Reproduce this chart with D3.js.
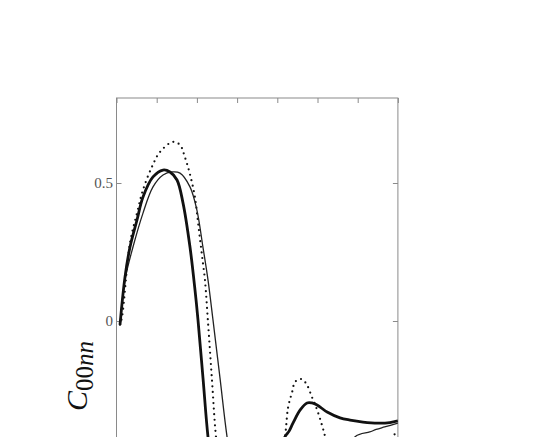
<!DOCTYPE html>
<html>
<head>
<meta charset="utf-8">
<script src="https://cdn.jsdelivr.net/npm/d3@7"></script>
<style>
  html, body { margin: 0; padding: 0; background: #fff; }
  svg { display: block; }
</style>
</head>
<body>
<svg id="chart" width="539" height="437"></svg>
<script>
// ---- data ----
const xTicks = [0, 1, 2, 3, 4, 5, 6, 7];
const yTicks = [0, 0.5];
const yTickLabels = ["0", "0.5"];

// thick solid curve
const thickX = [0.087, 0.211, 0.336, 0.51, 0.659, 0.908, 1.157, 1.331, 1.505, 1.654, 1.828, 1.953, 2.027, 2.152, 2.276, 2.45, 3.0, 3.6, 4.0, 4.19, 4.29, 4.39, 4.57, 4.74, 4.86, 4.99, 5.24, 5.56, 5.81, 6.13, 6.5, 6.8, 7.0];
const thickY = [-0.014, 0.159, 0.268, 0.366, 0.449, 0.522, 0.547, 0.54, 0.511, 0.428, 0.268, 0.112, 0.004, -0.207, -0.42, -0.62, -0.85, -0.78, -0.55, -0.42, -0.4, -0.37, -0.322, -0.297, -0.297, -0.304, -0.33, -0.351, -0.359, -0.366, -0.37, -0.368, -0.362];

// thin solid curve
const thinX = [0.087, 0.211, 0.41, 0.659, 0.908, 1.157, 1.381, 1.58, 1.828, 2.0, 2.15, 2.276, 2.4, 2.575, 2.75, 3.0, 3.8, 4.6, 5.4, 5.93, 6.3, 6.46, 6.67, 7.0];
const thinY = [-0.014, 0.149, 0.268, 0.391, 0.486, 0.529, 0.54, 0.536, 0.486, 0.402, 0.268, 0.149, 0.004, -0.207, -0.42, -0.65, -0.85, -0.8, -0.6, -0.42, -0.402, -0.393, -0.384, -0.37];

// dotted curve
const dotX = [0.087, 0.137, 0.336, 0.51, 0.659, 0.88, 1.08, 1.4, 1.58, 1.7, 1.82, 1.95, 2.05, 2.15, 2.2, 2.276, 2.375, 2.475, 2.7, 3.3, 3.9, 4.19, 4.27, 4.37, 4.44, 4.57, 4.64, 4.74, 4.86, 4.99, 5.11, 5.19, 5.4, 6.0, 6.6, 6.88, 7.0];
const dotY = [-0.014, 0.014, 0.283, 0.391, 0.475, 0.558, 0.612, 0.649, 0.638, 0.594, 0.536, 0.449, 0.33, 0.21, 0.149, -0.004, -0.214, -0.42, -0.7, -0.9, -0.65, -0.42, -0.312, -0.257, -0.221, -0.21, -0.214, -0.232, -0.275, -0.322, -0.377, -0.42, -0.6, -0.78, -0.55, -0.42, -0.395];

// ---- layout ----
const svg = d3.select("#chart");
const pL = 116.5, pR = 397.9, pT = 98, pB = 597;
const x = d3.scaleLinear().domain([0, 7]).range([pL, pR]);
const y = d3.scaleLinear().domain([-1, 0.808]).range([pB, pT]);

const axisColor = "#8a8a8a";

svg.append("defs").append("clipPath").attr("id", "plotclip")
  .append("rect").attr("x", pL).attr("y", pT)
  .attr("width", pR - pL).attr("height", pB - pT);

// box
svg.append("rect")
  .attr("x", pL).attr("y", pT)
  .attr("width", pR - pL).attr("height", pB - pT)
  .attr("fill", "none").attr("stroke", axisColor).attr("stroke-width", 1);

// top ticks (inward)
const gTop = svg.append("g").attr("transform", `translate(0,${pT})`)
  .call(d3.axisTop(x).tickValues(xTicks).tickSize(-5).tickFormat(""));
// left ticks with labels
const gLeft = svg.append("g").attr("transform", `translate(${pL},0)`)
  .call(d3.axisLeft(y).tickValues(yTicks).tickSize(-5).tickPadding(3.5)
    .tickFormat((d, i) => yTickLabels[i]));
// right ticks
const gRight = svg.append("g").attr("transform", `translate(${pR},0)`)
  .call(d3.axisRight(y).tickValues(yTicks).tickSize(-5).tickFormat(""));

[gTop, gLeft, gRight].forEach(g => {
  g.select(".domain").remove();
  g.selectAll(".tick line").attr("stroke", axisColor).attr("stroke-width", 1);
});
gLeft.attr("font-family", "'Liberation Serif', 'DejaVu Serif', serif").attr("font-size", 15);
gLeft.selectAll(".tick text")
  .attr("fill", "#555")
  .style("font-family", "'Liberation Serif', 'DejaVu Serif', serif")
  .style("font-size", "15px");

// y label C_{00nn}
const lab = svg.append("text")
  .attr("transform", "translate(87,411) rotate(-90)")
  .attr("fill", "#111")
  .style("font-family", "'Liberation Serif', 'DejaVu Serif', serif");
lab.append("tspan").text("C").style("font-style", "italic").style("font-size", "30px");
lab.append("tspan").text("00").attr("dy", 6).style("font-size", "25px");
lab.append("tspan").text("nn").style("font-style", "italic").style("font-size", "25px");

// curves
const line = d3.line()
  .x(d => x(d[0])).y(d => y(d[1]))
  .curve(d3.curveCatmullRom.alpha(0.5));

const plot = svg.append("g").attr("clip-path", "url(#plotclip)");

plot.append("path")
  .attr("d", line(dotX.map((v, i) => [v, dotY[i]])))
  .attr("fill", "none").attr("stroke", "#111")
  .attr("stroke-width", 2.2).attr("stroke-linecap", "round")
  .attr("stroke-dasharray", "0,5.6");

plot.append("path")
  .attr("d", line(thinX.map((v, i) => [v, thinY[i]])))
  .attr("fill", "none").attr("stroke", "#222").attr("stroke-width", 1.3);

plot.append("path")
  .attr("d", line(thickX.map((v, i) => [v, thickY[i]])))
  .attr("fill", "none").attr("stroke", "#111").attr("stroke-width", 2.8);
</script>
</body>
</html>
